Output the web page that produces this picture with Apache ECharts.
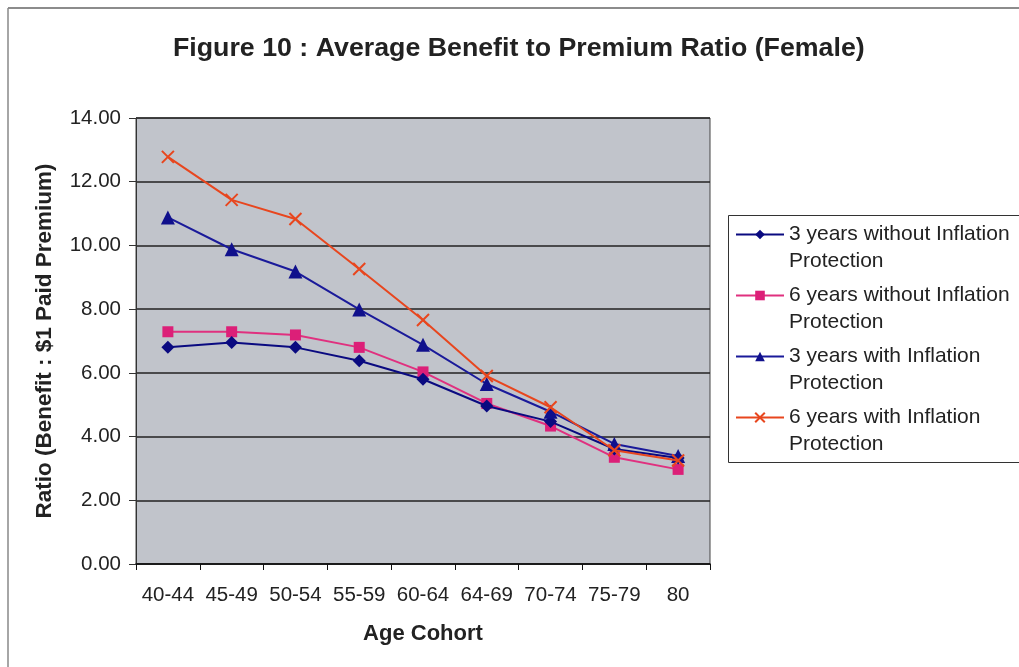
<!DOCTYPE html>
<html>
<head>
<meta charset="utf-8">
<script src="https://cdn.jsdelivr.net/npm/echarts@6/dist/echarts.min.js"></script>
<style>
  html, body { margin: 0; padding: 0; background: #fff; }
  #chart { width: 1019px; height: 667px; }
</style>
</head>
<body>
<div id="chart"></div>
<script>
// Age cohorts on the x axis
const cohorts = ['40-44', '45-49', '50-54', '55-59', '60-64', '64-69', '70-74', '75-79', '80'];

// Benefit-to-premium ratios by cohort
const threeYrNoInfl  = [6.80, 6.95, 6.80, 6.38, 5.80, 4.96, 4.47, 3.61, 3.33];
const sixYrNoInfl    = [7.29, 7.29, 7.19, 6.80, 6.03, 5.04, 4.33, 3.35, 2.97];
const threeYrInfl    = [10.88, 9.88, 9.18, 7.99, 6.88, 5.65, 4.78, 3.77, 3.39];
const sixYrInfl      = [12.78, 11.43, 10.83, 9.26, 7.66, 5.90, 4.92, 3.57, 3.25];

const seriesNames = [
  '3 years without Inflation\nProtection',
  '6 years without Inflation\nProtection',
  '3 years with Inflation\nProtection',
  '6 years with Inflation\nProtection'
];

const titleText = 'Figure 10 : Average Benefit to Premium Ratio (Female)';

const FONT = "'Liberation Sans', Arial, Helvetica, sans-serif";
const crossSymbol = 'path://M0,0L10,10M10,0L0,10';

const chart = echarts.init(document.getElementById('chart'), null, { renderer: 'canvas' });

chart.setOption({
  animation: false,
  backgroundColor: '#ffffff',
  textStyle: { fontFamily: FONT },
  graphic: [
    // page frame
    { type: 'line', shape: { x1: 8, y1: 8, x2: 1019, y2: 8 }, style: { stroke: '#666', lineWidth: 1.5 } },
    { type: 'line', shape: { x1: 8, y1: 8, x2: 8, y2: 667 }, style: { stroke: '#888', lineWidth: 1.5 } },
    // chart title, slightly widened
    { type: 'text', left: 173, top: 37, scaleX: 1.07,
      style: { text: titleText, font: "bold 25px 'Liberation Sans', Arial, sans-serif", fill: '#222' } },
    // legend box
    { type: 'rect', shape: { x: 728.5, y: 215.5, width: 300, height: 247 },
      style: { fill: '#fff', stroke: '#333', lineWidth: 1 }, z: 0 }
  ],
  legend: {
    orient: 'vertical',
    left: 735,
    top: 194,
    padding: 0,
    itemGap: -20,
    itemWidth: 48,
    itemHeight: 12,
    data: seriesNames,
    // leading blank line keeps the icon level with the first text line
    formatter: name => '\u00a0\n' + name,
    textStyle: {
      fontFamily: FONT,
      fontSize: 21,
      color: '#222',
      lineHeight: 27
    }
  },
  grid: {
    left: 136,
    top: 118,
    right: 309,
    bottom: 103,
    show: true,
    backgroundColor: '#c1c4cb',
    borderColor: '#444',
    borderWidth: 1
  },
  xAxis: {
    type: 'category',
    data: cohorts,
    boundaryGap: true,
    name: 'Age Cohort',
    nameLocation: 'middle',
    nameGap: 59,
    nameTextStyle: { fontFamily: FONT, fontSize: 22, fontWeight: 'bold', color: '#222' },
    axisLine: { lineStyle: { color: '#111', width: 1.5 } },
    axisTick: { show: true, interval: 0, length: 6, inside: false, lineStyle: { color: '#111' } },
    axisLabel: { interval: 0, margin: 21, fontFamily: FONT, fontSize: 20.5, color: '#222' },
    splitLine: { show: false }
  },
  yAxis: {
    type: 'value',
    min: 0,
    max: 14,
    interval: 2,
    name: 'Ratio (Benefit : $1 Paid Premium)',
    nameLocation: 'middle',
    nameGap: 80,
    nameTextStyle: { fontFamily: FONT, fontSize: 22.5, fontWeight: 'bold', color: '#222' },
    axisLine: { show: true, lineStyle: { color: '#333', width: 1 } },
    axisTick: { show: true, length: 7, inside: false, lineStyle: { color: '#333' } },
    axisLabel: {
      margin: 15,
      fontFamily: FONT,
      fontSize: 20.5,
      color: '#222',
      formatter: v => v.toFixed(2)
    },
    splitLine: { show: true, lineStyle: { color: '#222', width: 1.5 } }
  },
  series: [
    {
      name: seriesNames[0],
      type: 'line',
      data: threeYrNoInfl,
      symbol: 'diamond',
      symbolSize: 13,
      lineStyle: { color: '#0a0a80', width: 2 },
      itemStyle: { color: '#0a0a80' },
      z: 4
    },
    {
      name: seriesNames[1],
      type: 'line',
      data: sixYrNoInfl,
      symbol: 'rect',
      symbolSize: 11,
      lineStyle: { color: '#e0307f', width: 2 },
      itemStyle: { color: '#dc1f78' },
      z: 3
    },
    {
      name: seriesNames[2],
      type: 'line',
      data: threeYrInfl,
      symbol: 'triangle',
      symbolSize: 14,
      lineStyle: { color: '#1a1a9a', width: 2 },
      itemStyle: { color: '#10108c' },
      z: 5
    },
    {
      name: seriesNames[3],
      type: 'line',
      data: sixYrInfl,
      symbol: crossSymbol,
      symbolSize: 12,
      lineStyle: { color: '#e8461e', width: 2 },
      itemStyle: { color: 'rgba(0,0,0,0)', borderColor: '#e8461e', borderWidth: 2 },
      z: 6
    }
  ]
});
</script>
</body>
</html>
